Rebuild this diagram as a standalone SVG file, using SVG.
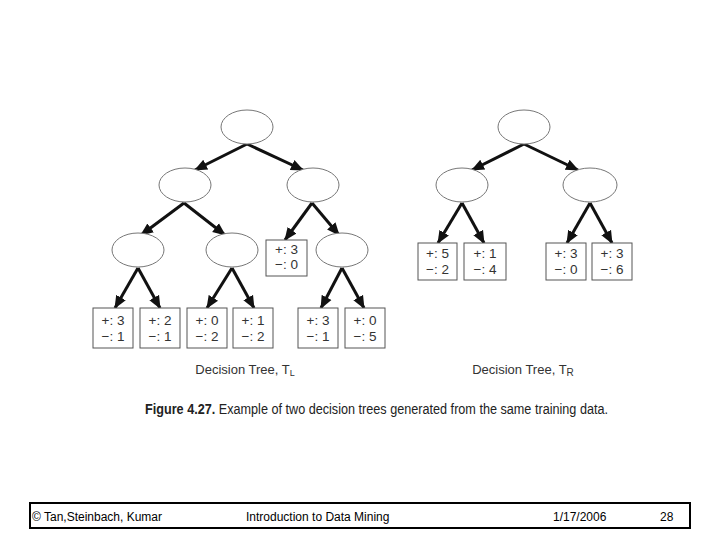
<svg xmlns="http://www.w3.org/2000/svg" width="720" height="540" viewBox="0 0 720 540">
<style>
.nd{fill:#fff;stroke:#777;stroke-width:1}
.bx{fill:#fff;stroke:#555;stroke-width:1}
.bt{font-family:"Liberation Sans",Arial,sans-serif;font-size:13.5px;fill:#333;text-anchor:middle}
.ed{stroke:#111;stroke-width:3;fill:none;marker-end:url(#ah)}
.lb{font-family:"Liberation Sans",Arial,sans-serif;font-size:13px;fill:#333;text-anchor:middle}
.ft{font-family:"Liberation Sans",Arial,sans-serif;font-size:12px;fill:#000}
</style>
<defs>
<marker id="ah" markerUnits="userSpaceOnUse" markerWidth="13" markerHeight="13" viewBox="0 0 13 13" refX="12" refY="6.5" orient="auto">
<path d="M0,1 L13,6.5 L0,12 z" fill="#111"/>
</marker>
</defs>
<rect width="720" height="540" fill="#fff"/>
<g id="connectors">
<line class="ed" x1="247" y1="144" x2="195" y2="170"/>
<line class="ed" x1="247" y1="144" x2="303" y2="170"/>
<line class="ed" x1="184" y1="203" x2="141" y2="235"/>
<line class="ed" x1="184" y1="203" x2="225" y2="235"/>
<line class="ed" x1="312" y1="203" x2="285" y2="240"/>
<line class="ed" x1="312" y1="203" x2="339" y2="235"/>
<line class="ed" x1="138" y1="268" x2="115" y2="308"/>
<line class="ed" x1="138" y1="268" x2="160" y2="308"/>
<line class="ed" x1="232" y1="268" x2="207" y2="308"/>
<line class="ed" x1="232" y1="268" x2="254" y2="308"/>
<line class="ed" x1="342" y1="268" x2="321" y2="308"/>
<line class="ed" x1="342" y1="268" x2="364" y2="308"/>
<line class="ed" x1="524" y1="144" x2="472" y2="170"/>
<line class="ed" x1="524" y1="144" x2="578" y2="170"/>
<line class="ed" x1="462" y1="203" x2="438" y2="243"/>
<line class="ed" x1="462" y1="203" x2="484" y2="243"/>
<line class="ed" x1="590" y1="203" x2="567" y2="243"/>
<line class="ed" x1="590" y1="203" x2="612" y2="243"/>
</g>
<g id="L_root"><ellipse class="nd" cx="247" cy="127" rx="26" ry="17"/></g>
<g id="L_a"><ellipse class="nd" cx="185" cy="185" rx="26" ry="17"/></g>
<g id="L_b"><ellipse class="nd" cx="313" cy="185" rx="26" ry="17"/></g>
<g id="L_c"><ellipse class="nd" cx="138" cy="250" rx="26" ry="17"/></g>
<g id="L_d"><ellipse class="nd" cx="232" cy="250" rx="26" ry="17"/></g>
<g id="L_e"><ellipse class="nd" cx="342" cy="250" rx="26" ry="17"/></g>
<g id="L_leaf0"><rect class="bx" x="266" y="240" width="41" height="36"/><text class="bt" x="286.5" y="254">+: 3</text><text class="bt" x="286.5" y="269">−: 0</text></g>
<g id="L_leaf1"><rect class="bx" x="93" y="308" width="40" height="40"/><text class="bt" x="113" y="325">+: 3</text><text class="bt" x="113" y="341">−: 1</text></g>
<g id="L_leaf2"><rect class="bx" x="140" y="308" width="40" height="40"/><text class="bt" x="160" y="325">+: 2</text><text class="bt" x="160" y="341">−: 1</text></g>
<g id="L_leaf3"><rect class="bx" x="187" y="308" width="40" height="40"/><text class="bt" x="207" y="325">+: 0</text><text class="bt" x="207" y="341">−: 2</text></g>
<g id="L_leaf4"><rect class="bx" x="233" y="308" width="40" height="40"/><text class="bt" x="253" y="325">+: 1</text><text class="bt" x="253" y="341">−: 2</text></g>
<g id="L_leaf5"><rect class="bx" x="298" y="308" width="40" height="40"/><text class="bt" x="318" y="325">+: 3</text><text class="bt" x="318" y="341">−: 1</text></g>
<g id="L_leaf6"><rect class="bx" x="345" y="308" width="40" height="40"/><text class="bt" x="365" y="325">+: 0</text><text class="bt" x="365" y="341">−: 5</text></g>
<g id="R_root"><ellipse class="nd" cx="524" cy="127" rx="26" ry="17"/></g>
<g id="R_a"><ellipse class="nd" cx="462" cy="185" rx="26" ry="17"/></g>
<g id="R_b"><ellipse class="nd" cx="590" cy="185" rx="27" ry="17"/></g>
<g id="R_leaf1"><rect class="bx" x="418" y="243" width="39" height="37"/><text class="bt" x="437.5" y="258">+: 5</text><text class="bt" x="437.5" y="274">−: 2</text></g>
<g id="R_leaf2"><rect class="bx" x="464" y="243" width="42" height="37"/><text class="bt" x="485" y="258">+: 1</text><text class="bt" x="485" y="274">−: 4</text></g>
<g id="R_leaf3"><rect class="bx" x="546" y="243" width="40" height="37"/><text class="bt" x="566" y="258">+: 3</text><text class="bt" x="566" y="274">−: 0</text></g>
<g id="R_leaf4"><rect class="bx" x="592" y="243" width="40" height="37"/><text class="bt" x="612" y="258">+: 3</text><text class="bt" x="612" y="274">−: 6</text></g>
<text class="lb" x="245" y="374">Decision Tree, T<tspan font-size="9" dy="2">L</tspan></text>
<text class="lb" x="523" y="374">Decision Tree, T<tspan font-size="10" dy="2">R</tspan></text>
<text x="145" y="414" font-family="Liberation Sans,Arial,sans-serif" font-size="14" fill="#222" textLength="463" lengthAdjust="spacingAndGlyphs"><tspan font-weight="bold">Figure 4.27.</tspan>  Example of two decision trees generated from the same training data.</text>
<g id="footer">
<rect x="30" y="503" width="660" height="25" fill="#fff" stroke="#000" stroke-width="2"/>
<text class="ft" x="32" y="521">© Tan,Steinbach, Kumar</text>
<text class="ft" x="246" y="521">Introduction to Data Mining</text>
<text class="ft" x="553" y="521">1/17/2006</text>
<text class="ft" x="660" y="521">28</text>
</g>
</svg>
